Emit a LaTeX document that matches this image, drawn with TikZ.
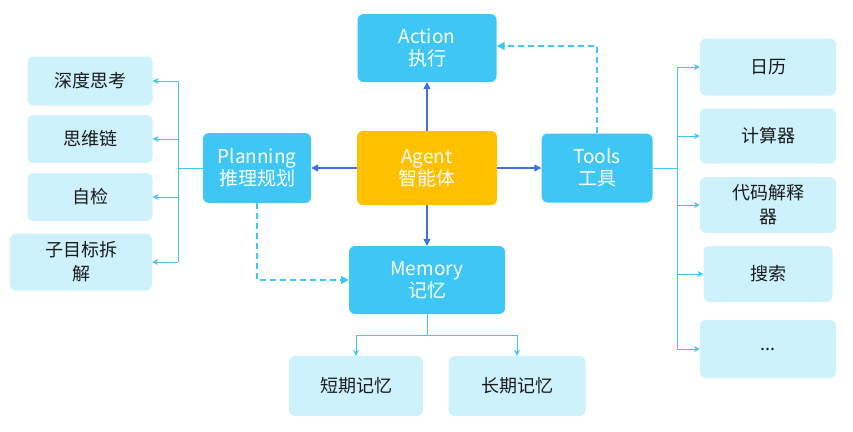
\documentclass[tikz,border=0pt]{standalone}
\usepackage{fontspec}
\setmainfont{Noto Sans CJK SC}
\usetikzlibrary{positioning}
\usetikzlibrary{arrows.meta}
\definecolor{agent-yellow}{HTML}{FFC000}
\definecolor{core-cyan}{HTML}{3EC6F5}
\definecolor{leaf-cyan}{HTML}{CDF1FD}
\definecolor{link-blue}{HTML}{3F6FEA}
\definecolor{leaf-text}{HTML}{1A1A1A}

\tikzset{
  core/.style={fill=core-cyan, text=white, rounded corners=6pt, align=center,
    font=\fontsize{19}{22}\selectfont, inner sep=0pt},
  leaf/.style={fill=leaf-cyan, text=leaf-text, rounded corners=6pt, align=center,
    font=\fontsize{18}{24}\selectfont, inner sep=0pt},
  main/.style={->, >={Triangle[length=7pt,width=7pt]}, line width=1.5pt, color=link-blue},
  hint/.style={->, >={Triangle[length=8pt,width=8pt]}, line width=1.8pt, color=core-cyan, dash pattern=on 6pt off 4pt},
  fork/.style={->, >={Stealth[length=6pt,width=6pt]}, line width=1pt, color=core-cyan}
}

\begin{document}
\begin{tikzpicture}[x=1pt, y=-1pt]
    \useasboundingbox (0,0) rectangle (853,431);

    % core nodes
    \node[core, fill=agent-yellow, minimum width=140pt, minimum height=74pt] (Agent) at (427,168) {Agent\\智能体};
    \node[core, minimum width=139pt, minimum height=68pt] (Action) at (427,48) {Action\\执行};
    \node[core, minimum width=108pt, minimum height=70pt] (Planning) at (257,168) {Planning\\推理规划};
    \node[core, minimum width=111pt, minimum height=69pt] (Tools) at (597,168) {Tools\\工具};
    \node[core, minimum width=156pt, minimum height=68pt] (Memory) at (427,280) {Memory\\记忆};

    % planning leaves
    \node[leaf, minimum width=125pt, minimum height=49pt] (Deep) at (90,81) {深度思考};
    \node[leaf, minimum width=125pt, minimum height=48pt] (Chain) at (90,139) {思维链};
    \node[leaf, minimum width=125pt, minimum height=48pt] (Check) at (90,197) {自检};
    \node[leaf, minimum width=142pt, minimum height=57pt] (Subgoal) at (81,262) {子目标拆\\解};

    % tool leaves
    \node[leaf, minimum width=136pt, minimum height=57pt] (Calendar) at (768,67) {日历};
    \node[leaf, minimum width=136pt, minimum height=55pt] (Calc) at (768,136) {计算器};
    \node[leaf, minimum width=136pt, minimum height=56pt] (Interp) at (768,205) {代码解释\\器};
    \node[leaf, minimum width=129pt, minimum height=56pt] (Search) at (768,274) {搜索};
    \node[leaf, minimum width=136pt, minimum height=58pt] (More) at (768,349) {...};

    % memory leaves
    \node[leaf, minimum width=134pt, minimum height=60pt] (Short) at (356,386) {短期记忆};
    \node[leaf, minimum width=137pt, minimum height=60pt] (Long) at (517,386) {长期记忆};

    % agent links
    \draw[main] (Agent) -- (Action);
    \draw[main] (Agent) -- (Planning);
    \draw[main] (Agent) -- (Tools);
    \draw[main] (Agent) -- (Memory);

    % dashed feedback
    \draw[hint] (Tools.north) |- (Action.east |- 0,46);
    \draw[hint] (Planning.south) |- (Memory.west);

    % planning fork
    \coordinate (PlanFork) at (178,168);
    \draw[line width=1pt, color=core-cyan] (Planning.west) -- (PlanFork);
    \draw[line width=1pt, color=core-cyan] (178,81) -- (178,262);
    \foreach \leafname in {Deep, Chain, Check, Subgoal}
        \draw[fork] (PlanFork |- \leafname.east) -- (\leafname.east);

    % tools fork
    \coordinate (ToolFork) at (677,168);
    \draw[line width=1pt, color=core-cyan] (Tools.east) -- (ToolFork);
    \draw[line width=1pt, color=core-cyan] (677,67) -- (677,349);
    \foreach \leafname in {Calendar, Calc, Interp, Search, More}
        \draw[fork] (ToolFork |- \leafname.west) -- (\leafname.west);

    % memory fork
    \coordinate (MemFork) at (427,335);
    \draw[line width=1pt, color=core-cyan] (Memory.south) -- (MemFork);
    \draw[line width=1pt, color=core-cyan] (Short.north |- MemFork) -- (Long.north |- MemFork);
    \draw[fork] (Short.north |- MemFork) -- (Short.north);
    \draw[fork] (Long.north |- MemFork) -- (Long.north);
\end{tikzpicture}
\end{document}
